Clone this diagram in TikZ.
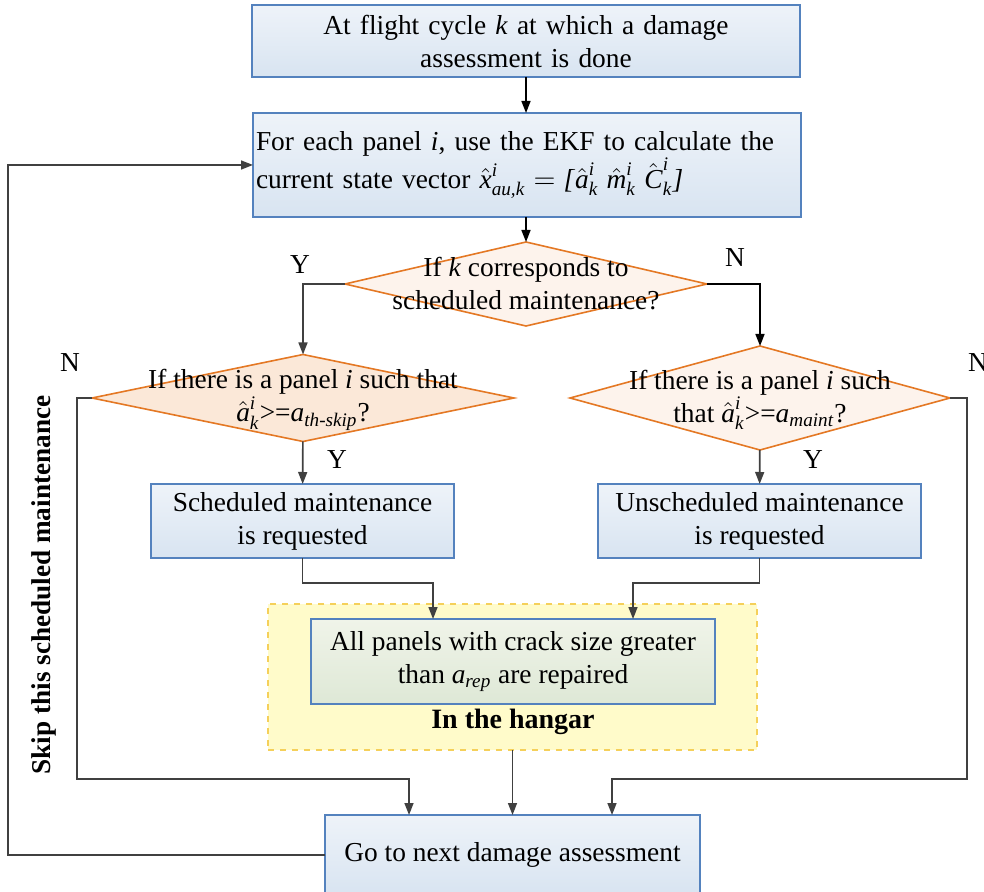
\documentclass[tikz,border=0pt]{standalone}
\usepackage{amsmath}
\usepackage{fontspec}
\setmainfont{Liberation Serif}
\usetikzlibrary{shapes.geometric,arrows.meta}

% italic variable in the text font
\newcommand{\tv}[1]{\text{\textit{#1}}}

\definecolor{boxblue}{RGB}{84,130,190}
\definecolor{boxtop}{RGB}{238,243,249}
\definecolor{boxbot}{RGB}{216,228,241}
\definecolor{decorange}{RGB}{228,120,36}
\definecolor{decfill}{RGB}{253,243,236}
\definecolor{decfilldark}{RGB}{251,232,216}
\definecolor{linegray}{RGB}{64,64,64}
\definecolor{hangfill}{RGB}{255,251,202}
\definecolor{hangline}{RGB}{245,208,90}
\definecolor{greentop}{RGB}{240,244,233}
\definecolor{greenbot}{RGB}{222,232,214}

\tikzset{
    box/.style={draw=boxblue, line width=0.8pt, top color=boxtop, bottom color=boxbot,
        inner sep=0pt, outer sep=0pt, align=center},
    decision/.style={diamond, draw=decorange, line width=0.8pt, fill=decfill,
        inner sep=0pt, outer sep=0pt},
    arr/.style={draw=linegray, line width=0.8pt, -{Triangle[length=6pt,width=4.5pt]}},
    yn/.style={inner sep=0pt},
}

\begin{document}
\begin{tikzpicture}[x=0.5pt, y=-0.5pt, font=\fontsize{13.7}{16.5}\selectfont]
    \useasboundingbox (0,0) rectangle (984,892);

    % Top boxes
    \node[box, minimum width=274pt, minimum height=36pt, text width=270pt]
        (start) at (526,41) {At flight cycle \textit{k} at which a damage\\ assessment is done};
    \node[box, minimum width=274pt, minimum height=52pt, text width=271pt, align=left,
        font=\fontsize{13.7}{18}\selectfont]
        (ekf) at (527,165) {For each panel \textit{i}, use the EKF to calculate the\\
        current state vector $\hat{\tv{x}}^{\tv{i}}_{\tv{au,k}}=\tv{[}\hat{\tv{a}}^{\tv{i}}_{\tv{k}}\;
        \hat{\tv{m}}^{\tv{i}}_{\tv{k}}\;\hat{\tv{C}}^{\tv{i}}_{\tv{k}}\tv{]}$};

    % Decisions
    \node[decision, minimum width=181pt, minimum height=42pt] (sched) at (526,284) {};
    \node[align=center] (schedtxt) at (sched) {If \textit{k} corresponds to\\ scheduled maintenance?};

    \node[decision, fill=decfilldark, minimum width=211pt, minimum height=43.5pt] (skipq) at (303,398) {};
    \node[align=center] (skipqtxt) at ([yshift=-1pt]skipq) {If there is a panel \textit{i} such that\\
        $\hat{\tv{a}}^{\tv{i}}_{\tv{k}}$>=$\tv{a}_{\tv{th-skip}}$?};

    \node[decision, minimum width=190pt, minimum height=52pt] (maintq) at (760,398) {};
    \node[align=center] (maintqtxt) at ([yshift=-1pt]maintq) {If there is a panel \textit{i} such\\
        that $\hat{\tv{a}}^{\tv{i}}_{\tv{k}}$>=$\tv{a}_{\tv{maint}}$?};

    % Requests
    \node[box, minimum width=151.5pt, minimum height=37pt] (schedreq) at (302.5,521)
        {Scheduled maintenance\\ is requested};
    \node[box, minimum width=161.5pt, minimum height=37pt] (unschedreq) at (759.5,521)
        {Unscheduled maintenance\\ is requested};

    % Hangar
    \node[draw=hangline, dashed, line width=0.8pt, fill=hangfill, minimum width=244.5pt,
        minimum height=73pt, inner sep=0pt, outer sep=0pt] (hangar) at (512.5,677) {};
    \node[box, top color=greentop, bottom color=greenbot, minimum width=202pt,
        minimum height=42.5pt] (repair) at (513,661.5)
        {All panels with crack size greater\\ than $\tv{a}_{\tv{rep}}$ are repaired};
    \node[font=\fontsize{14}{16.5}\selectfont\bfseries] (hangartxt) at (513,722) {In the hangar};

    % Bottom box
    \node[box, minimum width=187.5pt, minimum height=40pt] (next) at (512.5,855)
        {Go to next damage assessment};

    % Side text
    \node[rotate=90, font=\fontsize{13.6}{16}\selectfont\bfseries] (skiptxt) at (44,585)
        {Skip this scheduled maintenance};

    % Y / N
    \node[yn] (yes1) at (300,265) {Y};
    \node[yn] (no1) at (735,258) {N};
    \node[yn] (no2) at (70,363) {N};
    \node[yn] (no3) at (978,363) {N};
    \node[yn] (yes2) at (337,460) {Y};
    \node[yn] (yes3) at (813,460) {Y};

    % Corners
    \coordinate (m1) at (433,583);
    \coordinate (m2) at (633,583);
    \coordinate (l1) at (77,779);
    \coordinate (l2) at (409,779);
    \coordinate (r1) at (967,779);
    \coordinate (r2) at (612,779);
    \coordinate (back) at (8,0);

    % Connectors
    \draw[arr, draw=black] (start) -- (ekf.north -| start);
    \draw[arr, draw=black] (ekf.south -| sched) -- (sched);
    \draw[arr] (sched.west) -| (skipq.north);
    \draw[arr, draw=black] (sched.east) -| (maintq.north);
    \draw[arr] (skipq) -- (schedreq);
    \draw[arr] (maintq) -- (unschedreq);
    \draw[arr] (schedreq.south) |- (m1) -- (m1 |- repair.north);
    \draw[arr] (unschedreq.south) |- (m2) -- (m2 |- repair.north);
    \draw[arr] (hangar.south) -- (hangar.south |- next.north);
    \draw[arr] (skipq.west) -- (skipq.west -| l1) -- (l1) -- (l2) -- (l2 |- next.north);
    \draw[arr] (maintq.east) -- (maintq.east -| r1) -- (r1) -- (r2) -- (r2 |- next.north);
    \draw[arr] (next.west) -- (next.west -| back) |- (ekf.west);

\end{tikzpicture}
\end{document}
